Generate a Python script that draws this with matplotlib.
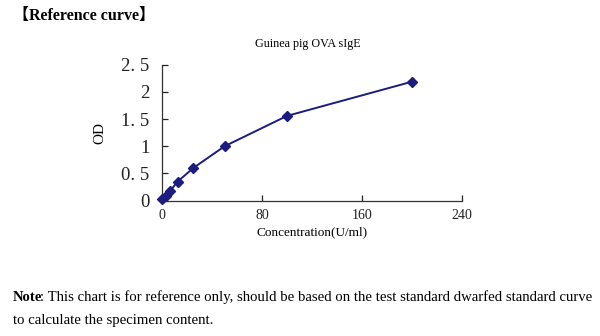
import matplotlib
matplotlib.use("Agg")
import matplotlib.pyplot as plt

# standard curve data
conc = [0, 3.125, 6.25, 12.5, 25, 50, 100, 200]
od = [0.03, 0.08, 0.17, 0.35, 0.60, 1.00, 1.56, 2.19]

xticks = [0, 80, 160, 240]
yticks = [0, 0.5, 1, 1.5, 2, 2.5]
ytick_labels = ["0", "0. 5", "1", "1. 5", "2", "2. 5"]

navy = "#1c1c80"
serif = ["Liberation Serif", "DejaVu Serif"]
plt.rcParams["font.family"] = serif

fig = plt.figure(figsize=(6, 3.36), dpi=100)
ax = fig.add_axes([0.27, 0.403, 0.50, 0.404])

ax.plot(conc, od, color=navy, lw=1.4, marker="D", ms=5, mfc=navy, mec=navy,
        clip_on=False, zorder=3)

ax.set_xlim(0, 240)
ax.set_ylim(0, 2.5)
ax.set_xticks(xticks)
ax.set_yticks(yticks)
ax.set_yticklabels(ytick_labels)
for s in ["top", "right"]:
    ax.spines[s].set_visible(False)
for s in ["left", "bottom"]:
    ax.spines[s].set_color("#333333")
    ax.spines[s].set_linewidth(0.9)
ax.tick_params(axis="x", direction="in", length=4, width=0.9, pad=6,
               labelsize=10, colors="#222222")
ax.tick_params(axis="y", direction="in", length=4, width=0.9, pad=9,
               labelsize=13.5, colors="#222222")

ax.set_xlabel("Concentration(U/ml)", fontsize=9.5, labelpad=3)
ax.set_ylabel("OD", fontsize=11, labelpad=11)

fig.text(0.513, 0.87, "Guinea pig OVA sIgE", ha="center", va="center", fontsize=8.7)
fig.text(0.022, 0.953, "【Reference curve】", ha="left", va="center", fontsize=11.5,
         fontweight="bold", family=["Liberation Serif", "Noto Sans CJK SC"])

fs_note = 10.65
note = fig.text(0.022, 0.115, "Note", ha="left", va="center", fontsize=fs_note,
                fontweight="bold")
ax.annotate(": This chart is for reference only, should be based on the test standard dwarfed standard curve",
            xy=(1, 0.5), xycoords=note, xytext=(-1.5, 0), textcoords="offset points",
            ha="left", va="center", fontsize=fs_note, annotation_clip=False)
fig.text(0.022, 0.046, "to calculate the specimen content.", ha="left", va="center",
         fontsize=fs_note)
fig.savefig("out.png", dpi=100)
